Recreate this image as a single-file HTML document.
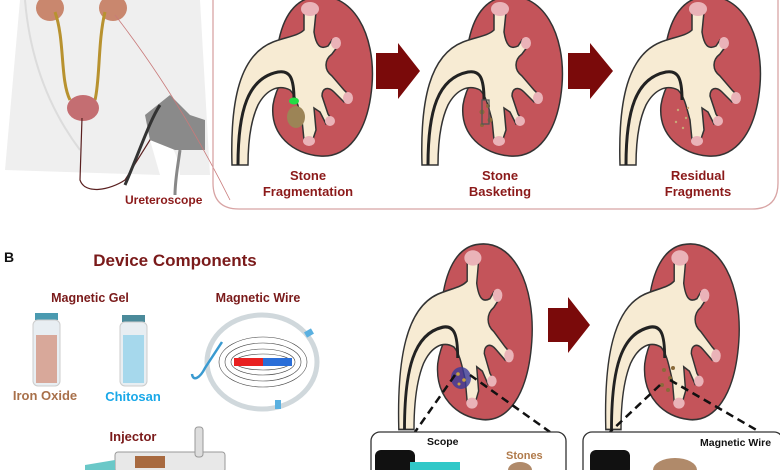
<!DOCTYPE html>
<html><head><meta charset="utf-8"><style>
html,body{margin:0;padding:0;background:#fff;}
svg{display:block;font-family:"Liberation Sans",Arial,sans-serif;font-weight:bold;}
</style></head><body>
<svg width="780" height="470" viewBox="0 0 780 470" xmlns="http://www.w3.org/2000/svg">
<defs>
<g id="kid">
  <path d="M45,-3 C85,-10 108,35 104,85 C100,135 78,158 52,156 C25,154 2,135 5,105 C7,92 12,85 15,78 L10,45 C15,15 28,0 45,-3 Z" fill="#c4545a" stroke="#333" stroke-width="1.5"/>
  <path d="M-36,165 C-38,100 -28,55 5,42 C18,37 30,36 36,30 L36,12 L48,12 L46,32 C48,45 52,50 60,46 L64,40 L70,46 L64,54 C56,60 56,70 64,76 L76,90 L82,96 L76,102 L66,92 C60,86 54,88 54,96 L60,114 L64,120 L58,124 L52,112 L46,108 L48,130 L44,142 L36,140 L34,120 C30,105 28,96 22,90 C10,84 -2,90 -10,105 C-17,120 -20,140 -20,165 Z" fill="#f7ebd3" stroke="#333" stroke-width="1.5"/>
  <ellipse cx="42" cy="9" rx="9" ry="7" fill="#eab3b8"/>
  <ellipse cx="68" cy="43" rx="5" ry="6" fill="#eab3b8"/>
  <ellipse cx="80" cy="98" rx="5" ry="6" fill="#eab3b8"/>
  <ellipse cx="62" cy="121" rx="5" ry="5" fill="#eab3b8"/>
  <ellipse cx="41" cy="141" rx="6" ry="5" fill="#eab3b8"/>
  <path d="M-30,165 C-30,110 -20,78 10,72 C22,70 26,78 26,100" fill="none" stroke="#222" stroke-width="3"/>
</g>
</defs>

<!-- body silhouette -->
<path d="M20,0 L5,170 L160,175 L150,140 C170,130 180,160 180,175 L210,175 L200,0 Z" fill="#efefef"/>
<path d="M25,0 C30,60 50,110 80,150" stroke="#dcdcdc" stroke-width="2" fill="none"/>
<ellipse cx="50" cy="8" rx="14" ry="13" fill="#c9876e"/>
<ellipse cx="113" cy="8" rx="14" ry="13" fill="#c9876e"/>
<path d="M55,12 C65,40 60,80 70,100" stroke="#b8922f" stroke-width="3" fill="none"/>
<path d="M105,12 C98,40 100,80 95,100" stroke="#b8922f" stroke-width="3" fill="none"/>
<ellipse cx="83" cy="108" rx="16" ry="13" fill="#c46e72"/>
<path d="M82,118 L80,180 C85,195 110,190 125,180 L150,140 L165,110" stroke="#5a2020" stroke-width="1.2" fill="none"/>
<path d="M145,115 L170,95 L190,115 L205,120 L205,150 L175,150 L150,140 Z" fill="#8a8a8a"/>
<path d="M160,105 C150,120 140,150 125,185" stroke="#333" stroke-width="3" fill="none"/>
<path d="M180,150 C178,165 175,180 175,195" stroke="#888" stroke-width="3" fill="none"/>
<path d="M115,15 C150,60 190,120 230,200" stroke="#c97a7a" stroke-width="0.8" fill="none"/>
<text x="125" y="204" font-size="12" fill="#8b1a1a">Ureteroscope</text>

<!-- top panel -->
<path d="M213,-5 L213,183 Q213,209 239,209 L752,209 Q778,209 778,183 L778,-5" fill="none" stroke="#d8a4a4" stroke-width="1.3"/>
<use href="#kid" transform="translate(268,0)"/>
<use href="#kid" transform="translate(458,0)"/>
<use href="#kid" transform="translate(656,0)"/>
<ellipse cx="294" cy="101" rx="5" ry="3.5" fill="#22dd44"/>
<ellipse cx="296" cy="117" rx="9" ry="11" fill="#9c8456"/>
<g fill="#8a6a3a"><circle cx="482" cy="112" r="2.5"/><circle cx="490" cy="120" r="2.5"/><circle cx="482" cy="125" r="2"/><circle cx="488" cy="106" r="2"/></g>
<rect x="482" y="100" width="7" height="24" fill="none" stroke="#555" stroke-width="1.3"/>
<g fill="#c8a878"><circle cx="678" cy="110" r="1.2"/><circle cx="686" cy="118" r="1.2"/><circle cx="676" cy="122" r="1.2"/><circle cx="683" cy="128" r="1.2"/><circle cx="688" cy="108" r="1.2"/></g>
<g fill="#7a0a0a">
<path d="M376,53 L398,53 L398,43 L420,71 L398,99 L398,89 L376,89 Z"/>
<path d="M568,53 L590,53 L590,43 L613,71 L590,99 L590,89 L568,89 Z"/>
<path d="M548,308 L568,308 L568,297 L590,325 L568,353 L568,342 L548,342 Z"/>
</g>
<g font-size="13" fill="#8b1a1a" text-anchor="middle">
<text x="308" y="180">Stone</text><text x="308" y="196">Fragmentation</text>
<text x="500" y="180">Stone</text><text x="500" y="196">Basketing</text>
<text x="698" y="180">Residual</text><text x="698" y="196">Fragments</text>
</g>

<!-- B -->
<text x="4" y="262" font-size="14" fill="#111">B</text>
<text x="175" y="266" font-size="17" fill="#7a1a1a" text-anchor="middle">Device Components</text>
<text x="90" y="302" font-size="12.5" fill="#7a1a1a" text-anchor="middle">Magnetic Gel</text>
<text x="258" y="302" font-size="12.5" fill="#7a1a1a" text-anchor="middle">Magnetic Wire</text>
<rect x="35" y="313" width="23" height="7" fill="#4a9ab0"/>
<rect x="33" y="320" width="27" height="66" rx="5" fill="#e8eef2" stroke="#ccc"/>
<rect x="36" y="335" width="21" height="48" fill="#d8a89a"/>
<rect x="122" y="315" width="23" height="7" fill="#4a8a9a"/>
<rect x="120" y="322" width="27" height="64" rx="5" fill="#e8eef2" stroke="#ccc"/>
<rect x="123" y="335" width="21" height="48" fill="#a6d8ec"/>
<text x="45" y="400" font-size="13" fill="#a8704a" text-anchor="middle">Iron Oxide</text>
<text x="133" y="401" font-size="13" fill="#1aa8e8" text-anchor="middle">Chitosan</text>
<ellipse cx="262" cy="362" rx="55" ry="47" fill="none" stroke="#d0d8dc" stroke-width="5"/>
<g fill="none" stroke="#444" stroke-width="0.6">
<ellipse cx="263" cy="362" rx="44" ry="25"/><ellipse cx="263" cy="362" rx="38" ry="19"/><ellipse cx="263" cy="362" rx="32" ry="13"/><ellipse cx="263" cy="362" rx="28" ry="8"/>
</g>
<rect x="234" y="358" width="29" height="8" fill="#e82020"/>
<rect x="263" y="358" width="29" height="8" fill="#2a6ed8"/>
<path d="M222,342 L205,368 C200,378 193,382 192,374" stroke="#3a9ad0" stroke-width="2.5" fill="none"/>
<rect x="305" y="330" width="8" height="6" fill="#5ab0e0" transform="rotate(-30 309 333)"/>
<rect x="275" y="400" width="6" height="9" fill="#5ab0e0"/>
<text x="133" y="441" font-size="13" fill="#7a1a1a" text-anchor="middle">Injector</text>
<rect x="115" y="452" width="110" height="20" rx="3" fill="#e8e8e8" stroke="#999"/>
<rect x="135" y="456" width="30" height="12" fill="#a86a40"/>
<rect x="195" y="427" width="8" height="30" rx="3" fill="#ddd" stroke="#999"/>
<path d="M85,465 L115,460 L115,470 L85,470 Z" fill="#6ac8c8"/>

<!-- bottom kidneys -->
<use href="#kid" transform="translate(433,248) scale(0.95,1.1)"/>
<use href="#kid" transform="translate(640,248) scale(0.95,1.1)"/>
<ellipse cx="461" cy="378" rx="10" ry="11" fill="#3a3a9a" opacity="0.8"/>
<g fill="#c8a040"><circle cx="458" cy="374" r="1.8"/><circle cx="464" cy="380" r="1.8"/><circle cx="459" cy="384" r="1.5"/></g>
<g fill="#8a6a3a"><circle cx="664" cy="370" r="2"/><circle cx="670" cy="378" r="2"/><circle cx="662" cy="385" r="2"/><circle cx="673" cy="368" r="2"/><circle cx="668" cy="390" r="2"/></g>
<g stroke="#111" stroke-width="2.5" stroke-dasharray="8,5" fill="none">
<path d="M455,375 L415,432"/><path d="M470,375 L550,432"/>
<path d="M660,385 L610,432"/><path d="M670,380 L760,432"/>
</g>
<rect x="371" y="432" width="195" height="50" rx="9" fill="#fff" stroke="#333" stroke-width="1.3"/>
<rect x="583" y="432" width="200" height="50" rx="9" fill="#fff" stroke="#333" stroke-width="1.3"/>
<text x="427" y="445" font-size="10.5" fill="#111">Scope</text>
<text x="506" y="459" font-size="11" fill="#b07a4a">Stones</text>
<text x="700" y="446" font-size="10.5" fill="#111">Magnetic Wire</text>
<rect x="375" y="450" width="40" height="25" rx="6" fill="#111"/>
<rect x="410" y="462" width="50" height="10" fill="#30c8c8"/>
<ellipse cx="520" cy="470" rx="12" ry="8" fill="#b08a6a"/>
<rect x="590" y="450" width="40" height="25" rx="6" fill="#111"/>
<ellipse cx="675" cy="470" rx="22" ry="12" fill="#b08a6a"/>
</svg>
</body></html>
